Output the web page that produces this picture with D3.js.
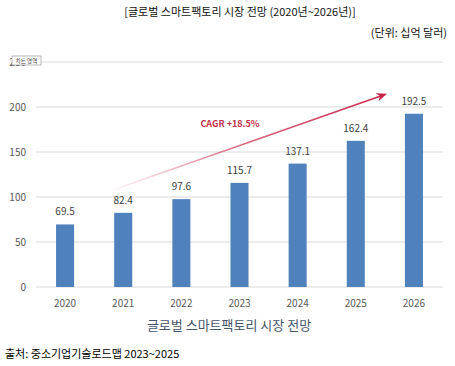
<!DOCTYPE html>
<html>
<head>
<meta charset="utf-8">
<script src="https://cdn.jsdelivr.net/npm/d3@7"></script>
<style>
  body { margin: 0; background: #fff; }
  text { font-family: "Noto Sans CJK KR", "Noto Sans", sans-serif; }
</style>
</head>
<body>
<div id="chart"></div>
<script>
const years = ["2020", "2021", "2022", "2023", "2024", "2025", "2026"];
const values = [69.5, 82.4, 97.6, 115.7, 137.1, 162.4, 192.5];
const yTicks = [0, 50, 100, 150, 200, 250];

const width = 455, height = 366;
const margin = {top: 62, bottom: 79, right: 12, left: 36};

const svg = d3.select("#chart").append("svg")
    .attr("width", width)
    .attr("height", height);

const x = d3.scaleBand()
    .domain(years)
    .range([margin.left, width - margin.right])
    .paddingInner(0.69)
    .paddingOuter(0.345);

const y = d3.scaleLinear()
    .domain([0, 250])
    .range([height - margin.bottom, margin.top]);

// title + unit
svg.append("text")
    .attr("x", 240).attr("y", 16)
    .attr("text-anchor", "middle")
    .style("font-size", "11px")
    .attr("fill", "#111")
    .text("[글로벌 스마트팩토리 시장 전망 (2020년~2026년)]");

svg.append("text")
    .attr("x", 447).attr("y", 37)
    .attr("text-anchor", "end")
    .style("font-size", "11px")
    .attr("fill", "#111")
    .text("(단위: 십억 달러)");

// gridlines
svg.append("g")
    .selectAll("line")
    .data(yTicks)
    .enter().append("line")
    .attr("x1", margin.left).attr("x2", width - margin.right)
    .attr("y1", d => y(d)).attr("y2", d => y(d))
    .attr("stroke", "#d9d9d9")
    .attr("stroke-width", 1);

// y axis labels
svg.append("g")
    .selectAll("text")
    .data(yTicks)
    .enter().append("text")
    .attr("x", 26)
    .attr("y", d => y(d) + 4)
    .attr("text-anchor", "end")
    .style("font-size", "10px")
    .attr("fill", "#595959")
    .text(d => d);

// "차트 영역" tooltip box
svg.append("rect")
    .attr("x", 12).attr("y", 56)
    .attr("width", 29).attr("height", 9)
    .attr("fill", "#fff")
    .attr("stroke", "#888")
    .attr("stroke-width", 0.6);
svg.append("text")
    .attr("x", 26.5).attr("y", 63)
    .attr("text-anchor", "middle")
    .style("font-size", "5.5px")
    .attr("fill", "#444")
    .text("차트 영역");

// bars
svg.append("g")
    .selectAll("rect")
    .data(values)
    .enter().append("rect")
    .attr("x", (d, i) => x(years[i]))
    .attr("y", d => y(d))
    .attr("width", x.bandwidth())
    .attr("height", d => y(0) - y(d))
    .attr("fill", "#4f81bd");

// value labels
svg.append("g")
    .selectAll("text")
    .data(values)
    .enter().append("text")
    .attr("x", (d, i) => x(years[i]) + x.bandwidth() / 2)
    .attr("y", d => y(d) - 9)
    .attr("text-anchor", "middle")
    .style("font-size", "10px")
    .attr("fill", "#404040")
    .text(d => d);

// x axis labels
svg.append("g")
    .selectAll("text")
    .data(years)
    .enter().append("text")
    .attr("x", d => x(d) + x.bandwidth() / 2)
    .attr("y", 307)
    .attr("text-anchor", "middle")
    .style("font-size", "10px")
    .attr("fill", "#595959")
    .text(d => d);

// CAGR arrow
const defs = svg.append("defs");
const grad = defs.append("linearGradient")
    .attr("id", "cagrGrad")
    .attr("gradientUnits", "userSpaceOnUse")
    .attr("x1", 110).attr("y1", 191)
    .attr("x2", 386).attr("y2", 94);
grad.append("stop").attr("offset", "0").attr("stop-color", "#c8254a").attr("stop-opacity", 0);
grad.append("stop").attr("offset", "0.5").attr("stop-color", "#c8254a").attr("stop-opacity", 0.7);
grad.append("stop").attr("offset", "1").attr("stop-color", "#c8254a").attr("stop-opacity", 1);

defs.append("marker")
    .attr("id", "arrowHead")
    .attr("viewBox", "0 0 10 10")
    .attr("refX", 8).attr("refY", 5)
    .attr("markerWidth", 7).attr("markerHeight", 7)
    .attr("orient", "auto")
    .append("path")
    .attr("d", "M0,1 L10,5 L0,9 L3,5 Z")
    .attr("fill", "#c8254a");

svg.append("line")
    .attr("x1", 110).attr("y1", 191)
    .attr("x2", 385).attr("y2", 94.5)
    .attr("stroke", "url(#cagrGrad)")
    .attr("stroke-width", 1.5)
    .attr("marker-end", "url(#arrowHead)");

svg.append("text")
    .attr("x", 230).attr("y", 127)
    .attr("text-anchor", "middle")
    .style("font-size", "9px")
    .style("font-weight", "bold")
    .attr("fill", "#c0304a")
    .text("CAGR +18.5%");

// bottom caption
svg.append("text")
    .attr("x", 229).attr("y", 330)
    .attr("text-anchor", "middle")
    .style("font-size", "13px")
    .attr("fill", "#44546a")
    .text("글로벌 스마트팩토리 시장 전망");

svg.append("text")
    .attr("x", 5).attr("y", 358)
    .style("font-size", "11px")
    .attr("fill", "#000")
    .text("출처: 중소기업기술로드맵 2023~2025");
</script>
</body>
</html>
